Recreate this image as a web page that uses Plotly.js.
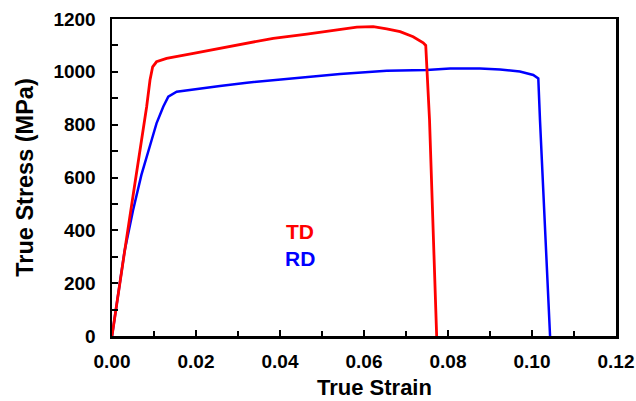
<!DOCTYPE html>
<html>
<head>
<meta charset="utf-8">
<script src="https://cdn.plot.ly/plotly-3.0.1.min.js"></script>
<style>html,body{margin:0;padding:0;background:#fff;}#chart{width:636px;height:401px;}</style>
</head>
<body>
<div id="chart"></div>
<script>
// TD (transverse direction) true strain / true stress
const tdStrain = [0, 0.001, 0.003, 0.005, 0.00706, 0.00825, 0.00905, 0.00968, 0.0106, 0.0130, 0.0194, 0.0257, 0.0321, 0.0384, 0.0464, 0.0543, 0.0583, 0.0622, 0.0654, 0.0686, 0.0717, 0.0741, 0.0747, 0.0756, 0.0771, 0.0773];
const tdStress = [0, 110, 320, 530, 742, 868, 969, 1019, 1038, 1051, 1070, 1089, 1108, 1127, 1143, 1161, 1169, 1171, 1163, 1152, 1133, 1110, 1100, 818, 136, 0];
// RD (rolling direction)
const rdStrain = [0, 0.001, 0.002, 0.003, 0.005, 0.007, 0.00944, 0.0106, 0.0122, 0.0134, 0.0154, 0.0194, 0.0257, 0.0321, 0.0384, 0.0464, 0.0543, 0.0654, 0.0749, 0.0805, 0.0876, 0.0924, 0.0971, 0.1003, 0.1015, 0.1019, 0.1039, 0.1043];
const rdStress = [0, 108, 215, 322, 475, 610, 742, 805, 868, 906, 925, 934, 946, 959, 969, 982, 992, 1004, 1007, 1013, 1013, 1009, 1001, 988, 975, 818, 136, 0];

const xTicks = [0, 0.02, 0.04, 0.06, 0.08, 0.10, 0.12];
const xTickText = ["0.00", "0.02", "0.04", "0.06", "0.08", "0.10", "0.12"];
const yTicks = [0, 200, 400, 600, 800, 1000, 1200];
const seriesNames = ["TD", "RD"];
const xTitle = "True Strain";
const yTitle = "True Stress (MPa)";

const traces = [
  {x: rdStrain, y: rdStress, mode: 'lines', name: seriesNames[1], line: {color: '#0000ff', width: 2.5}},
  {x: tdStrain, y: tdStress, mode: 'lines', name: seriesNames[0], line: {color: '#ff0000', width: 2.8}}
];

const font = 'Arial, "Liberation Sans", sans-serif';
const layout = {
  width: 636, height: 401,
  margin: {l: 112, r: 20, t: 19, b: 65},
  paper_bgcolor: '#fff', plot_bgcolor: '#fff',
  showlegend: false,
  font: {family: font, color: '#000'},
  xaxis: {
    range: [0, 0.12], tickvals: xTicks, ticktext: xTickText,
    ticks: 'inside', ticklen: 6, tickwidth: 2, tickcolor: '#000',
    minor: {ticks: 'inside', dtick: 0.01, ticklen: 5, tickwidth: 2, tickcolor: '#000'},
    showline: true, linewidth: 2.5, linecolor: '#000', mirror: true,
    showgrid: false, zeroline: false, automargin: false,
    ticklabelstandoff: 7,
    tickfont: {family: font, size: 19, color: '#000', weight: 'bold'}
  },
  yaxis: {
    range: [0, 1200], tickvals: yTicks,
    ticks: 'inside', ticklen: 6, tickwidth: 2, tickcolor: '#000',
    minor: {ticks: 'inside', dtick: 100, ticklen: 6, tickwidth: 2, tickcolor: '#000'},
    showline: true, linewidth: 2.5, linecolor: '#000', mirror: true,
    showgrid: false, zeroline: false, automargin: false,
    ticklabelstandoff: 10,
    tickfont: {family: font, size: 19, color: '#000', weight: 'bold'},
    title: {text: yTitle, font: {family: font, size: 23.5, color: '#000', weight: 'bold'}, standoff: 13}
  },
  annotations: [
    {x: 0.52, y: 0, xref: 'paper', yref: 'paper', xanchor: 'center', yanchor: 'bottom', yshift: -65,
     text: '<b>' + xTitle + '</b>', showarrow: false, borderpad: 0,
     font: {family: font, size: 22, color: '#000'}},
    {x: 0.0448, y: 397, xref: 'x', yref: 'y', text: '<b>' + seriesNames[0] + '</b>', showarrow: false,
     font: {family: font, size: 21, color: '#ff0000'}},
    {x: 0.0448, y: 295, xref: 'x', yref: 'y', text: '<b>' + seriesNames[1] + '</b>', showarrow: false,
     font: {family: font, size: 21, color: '#0000ff'}}
  ]
};

Plotly.newPlot('chart', traces, layout, {staticPlot: true, displayModeBar: false});
</script>
</body>
</html>
